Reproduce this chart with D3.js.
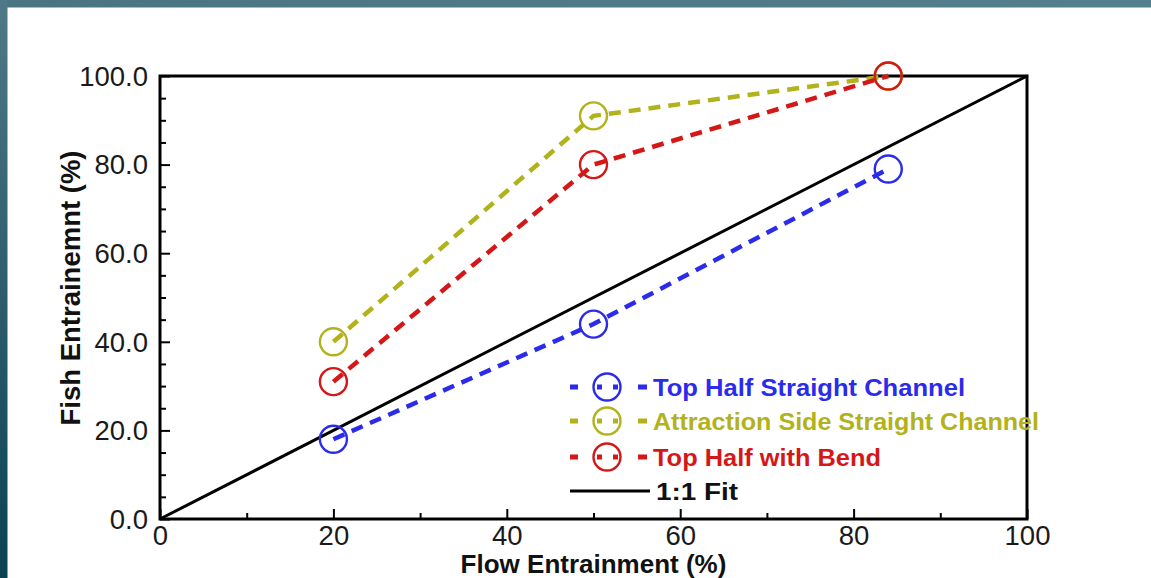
<!DOCTYPE html>
<html>
<head>
<meta charset="utf-8">
<script src="https://cdn.jsdelivr.net/npm/d3@7"></script>
<style>
  html, body { margin: 0; padding: 0; background: #ffffff; }
  svg { display: block; font-family: "Liberation Sans", Arial, Helvetica, sans-serif; }
</style>
</head>
<body>
<svg id="chart" width="1151" height="578"></svg>
<script>
// ---- Data ----
const flowEntrainment = [20, 50, 84];
const topHalfStraight = [18, 44, 79];
const attractionSide = [40, 91, 100];
const topHalfBend = [31, 80, 100];
const fitX = [0, 100];
const fitY = [0, 100];
const xTickValues = [0, 20, 40, 60, 80, 100];
const yTickValues = [0, 20, 40, 60, 80, 100];
const xMinorTicks = [10, 30, 50, 70, 90];
const yMinorTicks = [5, 10, 15, 25, 30, 35, 45, 50, 55, 65, 70, 75, 85, 90, 95];
const seriesNames = ["Top Half Straight Channel", "Attraction Side Straight Channel", "Top Half with Bend", "1:1 Fit"];
const seriesColors = ["#2b2bec", "#b2b21c", "#d41818", "#000000"];

const svg = d3.select("#chart");
const W = 1151, H = 578;

// ---- Frame background (teal border) ----
const defs = svg.append("defs");
const gL = defs.append("linearGradient").attr("id", "gl").attr("x1", 0).attr("x2", 0).attr("y1", 0).attr("y2", 1);
gL.append("stop").attr("offset", "0%").attr("stop-color", "#4f7987");
gL.append("stop").attr("offset", "100%").attr("stop-color", "#0a4254");
const gT = defs.append("linearGradient").attr("id", "gt").attr("x1", 0).attr("x2", 1).attr("y1", 0).attr("y2", 0);
gT.append("stop").attr("offset", "0%").attr("stop-color", "#4a7482");
gT.append("stop").attr("offset", "100%").attr("stop-color", "#53808e");
svg.append("rect").attr("x", 0).attr("y", 0).attr("width", W).attr("height", H).attr("fill", "#ffffff");
svg.append("rect").attr("x", 0).attr("y", 0).attr("width", W).attr("height", 7.5).attr("fill", "url(#gt)");
svg.append("rect").attr("x", 0).attr("y", 0).attr("width", 7.5).attr("height", H).attr("fill", "url(#gl)");

// ---- Scales ----
const x = d3.scaleLinear().domain([0, 100]).range([160, 1027]);
const y = d3.scaleLinear().domain([0, 100]).range([519, 76]);

// ---- Axes ----
const fmtY = d => d.toFixed(1);
const xAxis = svg.append("g").attr("transform", `translate(0,${y(0)})`)
  .call(d3.axisBottom(x).tickValues(xTickValues).tickSize(-10).tickPadding(5).tickFormat(d3.format("d")));
const xMinor = svg.append("g").attr("transform", `translate(0,${y(0)})`)
  .call(d3.axisBottom(x).tickValues(xMinorTicks).tickSize(-6).tickFormat(""));
const yAxis = svg.append("g").attr("transform", `translate(${x(0)},0)`)
  .call(d3.axisLeft(y).tickValues(yTickValues).tickSize(-10).tickPadding(12).tickFormat(fmtY));
const yMinor = svg.append("g").attr("transform", `translate(${x(0)},0)`)
  .call(d3.axisLeft(y).tickValues(yMinorTicks).tickSize(-6).tickFormat(""));

[xAxis, xMinor, yAxis, yMinor].forEach(g => {
  g.select(".domain").remove();
  g.selectAll(".tick line").attr("stroke", "#000").attr("stroke-width", 2);
  g.selectAll(".tick text").attr("fill", "#1a1a1a").attr("font-size", 27.5)
    .attr("font-family", "'Liberation Sans', Arial, sans-serif");
});
xAxis.selectAll(".tick text").attr("dy", "0.76em");
yAxis.selectAll(".tick text").attr("dy", "0.34em");

// Plot box
svg.append("rect")
  .attr("x", x(0)).attr("y", y(100))
  .attr("width", x(100) - x(0)).attr("height", y(0) - y(100))
  .attr("fill", "none").attr("stroke", "#000").attr("stroke-width", 3);

// ---- Axis titles ----
svg.append("text")
  .attr("x", (x(0) + x(100)) / 2).attr("y", 573)
  .attr("text-anchor", "middle").attr("font-size", 26).attr("font-weight", "bold").attr("fill", "#111")
  .text("Flow Entrainment (%)");
svg.append("text")
  .attr("transform", `translate(80,${288}) rotate(-90)`)
  .attr("text-anchor", "middle").attr("font-size", 27.5).attr("font-weight", "bold").attr("fill", "#111")
  .text("Fish Entrainemnt (%)");

// ---- 1:1 fit line ----
const line = d3.line().x(d => x(d[0])).y(d => y(d[1]));
svg.append("path")
  .datum(d3.zip(fitX, fitY))
  .attr("d", line).attr("fill", "none").attr("stroke", "#000").attr("stroke-width", 3);

// ---- Data series ----
const series = [topHalfStraight, attractionSide, topHalfBend];
series.forEach((vals, i) => {
  const pts = d3.zip(flowEntrainment, vals);
  svg.append("path").datum(pts).attr("d", line)
    .attr("fill", "none").attr("stroke", seriesColors[i]).attr("stroke-width", 4.5)
    .attr("stroke-dasharray", "12,8");
  svg.selectAll(null).data(pts).enter().append("circle")
    .attr("cx", d => x(d[0])).attr("cy", d => y(d[1])).attr("r", 13.5)
    .attr("fill", "none").attr("stroke", seriesColors[i]).attr("stroke-width", 2.4);
});

// ---- Legend ----
const legendRows = [387, 421, 457, 491];
const legendWidths = [312, 386, 228, 82];
const leg = svg.append("g");
seriesNames.forEach((name, i) => {
  const ry = legendRows[i];
  if (i < 3) {
    leg.append("line").attr("x1", 570).attr("x2", 647).attr("y1", ry).attr("y2", ry)
      .attr("stroke", seriesColors[i]).attr("stroke-width", 5)
      .attr("stroke-dasharray", "8,19,5,11,5,20,9");
    leg.append("circle").attr("cx", 607).attr("cy", ry).attr("r", 13.5)
      .attr("fill", "none").attr("stroke", seriesColors[i]).attr("stroke-width", 2.4);
  } else {
    leg.append("line").attr("x1", 570).attr("x2", 650).attr("y1", ry).attr("y2", ry)
      .attr("stroke", "#000").attr("stroke-width", 3);
  }
  leg.append("text").attr("x", i < 3 ? 653 : 656).attr("y", ry + 8.5)
    .attr("font-size", 23).attr("font-weight", "bold")
    .attr("fill", i < 3 ? seriesColors[i] : "#111")
    .attr("textLength", legendWidths[i]).attr("lengthAdjust", "spacingAndGlyphs")
    .text(name);
});
</script>
</body>
</html>
